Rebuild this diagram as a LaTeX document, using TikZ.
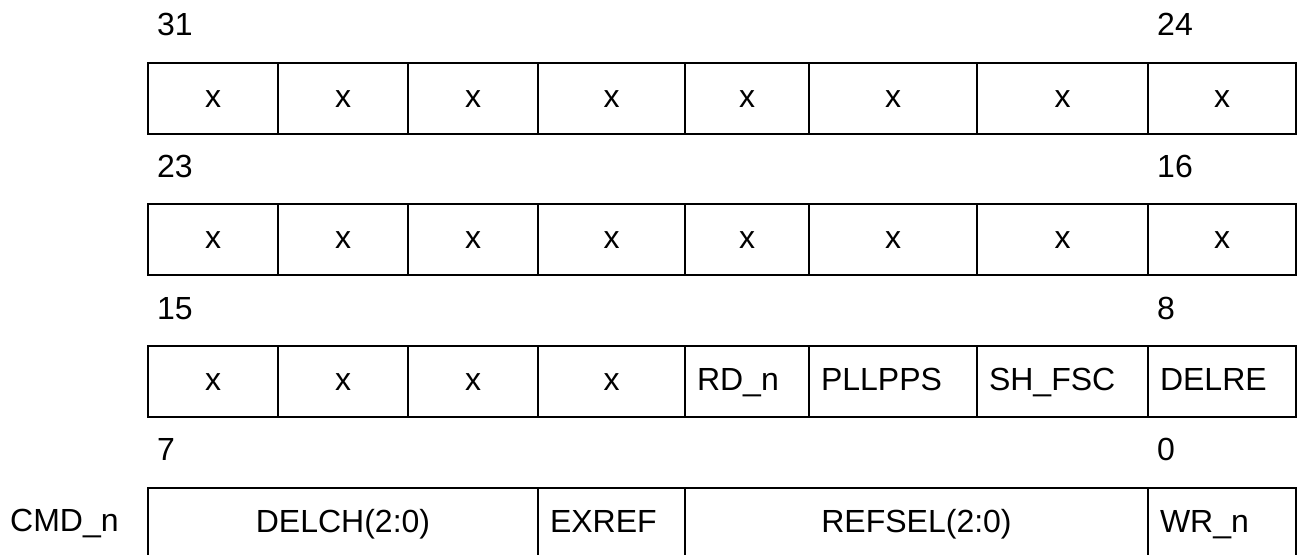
\documentclass[tikz,border=0pt]{standalone}
\usepackage{fontspec}
\setmainfont{Liberation Sans}
\newcommand{\fsz}{\fontsize{32}{32}\selectfont}
\begin{document}
\begin{tikzpicture}[x=1pt,y=-1pt,
  cell/.style={draw, line width=2pt, minimum height=71pt, inner sep=0pt, text height=23pt, text depth=6pt, anchor=north west, font=\fsz},
  lcell/.style={cell, inner xsep=12pt, align=left},
  bitlabel/.style={anchor=base west, inner sep=0pt, font=\fsz}]
\useasboundingbox (0,0) rectangle (1297,554);
% bit number labels
\node[bitlabel] (b31) at (157,35) {31};
\node[bitlabel] (b24) at (1157,35) {24};
\node[bitlabel] (b23) at (157,177) {23};
\node[bitlabel] (b16) at (1157,177) {16};
\node[bitlabel] (b15) at (157,319) {15};
\node[bitlabel] (b8) at (1157,319) {8};
\node[bitlabel] (b7) at (157,460) {7};
\node[bitlabel] (b0) at (1157,460) {0};
% row 1
\node[cell, minimum width=130pt] (r1c1) at (147,62) {x};
\node[cell, minimum width=130pt] (r1c2) at (277,62) {x};
\node[cell, minimum width=130pt] (r1c3) at (407,62) {x};
\node[cell, minimum width=147pt] (r1c4) at (537,62) {x};
\node[cell, minimum width=124pt] (r1c5) at (684,62) {x};
\node[cell, minimum width=168pt] (r1c6) at (808,62) {x};
\node[cell, minimum width=171pt] (r1c7) at (976,62) {x};
\node[cell, minimum width=148pt] (r1c8) at (1147,62) {x};
% row 2
\node[cell, minimum width=130pt] (r2c1) at (147,203) {x};
\node[cell, minimum width=130pt] (r2c2) at (277,203) {x};
\node[cell, minimum width=130pt] (r2c3) at (407,203) {x};
\node[cell, minimum width=147pt] (r2c4) at (537,203) {x};
\node[cell, minimum width=124pt] (r2c5) at (684,203) {x};
\node[cell, minimum width=168pt] (r2c6) at (808,203) {x};
\node[cell, minimum width=171pt] (r2c7) at (976,203) {x};
\node[cell, minimum width=148pt] (r2c8) at (1147,203) {x};
% row 3
\node[cell, minimum width=130pt] (r3c1) at (147,345) {x};
\node[cell, minimum width=130pt] (r3c2) at (277,345) {x};
\node[cell, minimum width=130pt] (r3c3) at (407,345) {x};
\node[cell, minimum width=147pt] (r3c4) at (537,345) {x};
\node[lcell, text width=100pt] (r3c5) at (684,345) {RD\_n};
\node[lcell, text width=144pt] (r3c6) at (808,345) {PLLPPS};
\node[lcell, text width=147pt] (r3c7) at (976,345) {SH\_FSC};
\node[lcell, text width=124pt] (r3c8) at (1147,345) {DELRE};
% row 4
\node[anchor=base west, inner sep=0pt, font=\fsz] (cmd) at (10,531) {CMD\_n};
\node[cell, minimum width=390pt] (r4c1) at (147,487) {DELCH(2:0)};
\node[lcell, text width=123pt] (r4c2) at (537,487) {EXREF};
\node[cell, minimum width=463pt] (r4c3) at (684,487) {REFSEL(2:0)};
\node[lcell, text width=124pt] (r4c4) at (1147,487) {WR\_n};
\end{tikzpicture}
\end{document}
